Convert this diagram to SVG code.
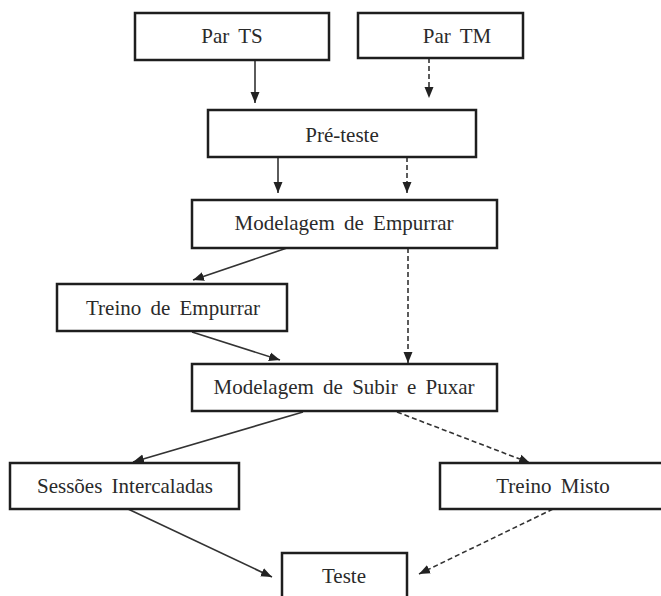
<svg xmlns="http://www.w3.org/2000/svg" width="661" height="596" viewBox="0 0 661 596">
<style>
.box{fill:#fff;stroke:#1e1e1e;stroke-width:2.5}
.lbl{font-family:"Liberation Serif","Times New Roman",serif;font-size:21px;fill:#2a2a2a;text-anchor:middle;word-spacing:4px}
.c{fill:none;stroke:#333;stroke-width:1.6}
.d{stroke-dasharray:5 3}
</style>
<defs>
<marker id="ah" markerUnits="userSpaceOnUse" markerWidth="12" markerHeight="10" viewBox="0 0 12 10" refX="11" refY="5" orient="auto">
<path d="M0,0.5 L11,5 L0,9.5 Z" fill="#222"/>
</marker>
</defs>
<rect width="661" height="596" fill="#fff"/>
<g id="connectors">
<line class="c" x1="255" y1="60" x2="255" y2="103" marker-end="url(#ah)"/>
<line class="c d" x1="429" y1="58" x2="429" y2="98" marker-end="url(#ah)"/>
<line class="c" x1="278" y1="157" x2="278" y2="193" marker-end="url(#ah)"/>
<line class="c d" x1="407" y1="157" x2="407" y2="193" marker-end="url(#ah)"/>
<line class="c" x1="287" y1="248" x2="193" y2="280" marker-end="url(#ah)"/>
<line class="c d" x1="408" y1="248" x2="408" y2="363" marker-end="url(#ah)"/>
<line class="c" x1="192" y1="332" x2="280" y2="360" marker-end="url(#ah)"/>
<line class="c" x1="303" y1="412" x2="133" y2="462" marker-end="url(#ah)"/>
<line class="c d" x1="397" y1="412" x2="530" y2="463" marker-end="url(#ah)"/>
<line class="c" x1="128" y1="509" x2="272" y2="577" marker-end="url(#ah)"/>
<line class="c d" x1="553" y1="509" x2="419" y2="574" marker-end="url(#ah)"/>
</g>
<g id="par-ts"><rect class="box" x="135" y="13" width="194" height="47"/><text class="lbl" x="232" y="43">Par TS</text></g>
<g id="par-tm"><rect class="box" x="358" y="13" width="165" height="45"/><text class="lbl" x="457" y="43">Par TM</text></g>
<g id="pre-teste"><rect class="box" x="208" y="110" width="268" height="47"/><text class="lbl" x="342" y="142">Pré-teste</text></g>
<g id="modelagem-empurrar"><rect class="box" x="192" y="200" width="305" height="48"/><text class="lbl" x="344" y="230">Modelagem de Empurrar</text></g>
<g id="treino-empurrar"><rect class="box" x="57" y="284" width="230" height="47"/><text class="lbl" x="173" y="315">Treino de Empurrar</text></g>
<g id="modelagem-subir-puxar"><rect class="box" x="192" y="364" width="305" height="47"/><text class="lbl" x="344" y="394">Modelagem de Subir e Puxar</text></g>
<g id="sessoes-intercaladas"><rect class="box" x="10" y="463" width="229" height="46"/><text class="lbl" x="125" y="493">Sessões Intercaladas</text></g>
<g id="treino-misto"><rect class="box" x="440" y="463" width="240" height="46"/><text class="lbl" x="553" y="493">Treino Misto</text></g>
<g id="teste"><rect class="box" x="282" y="553" width="125" height="60"/><text class="lbl" x="344" y="583">Teste</text></g>
</svg>
